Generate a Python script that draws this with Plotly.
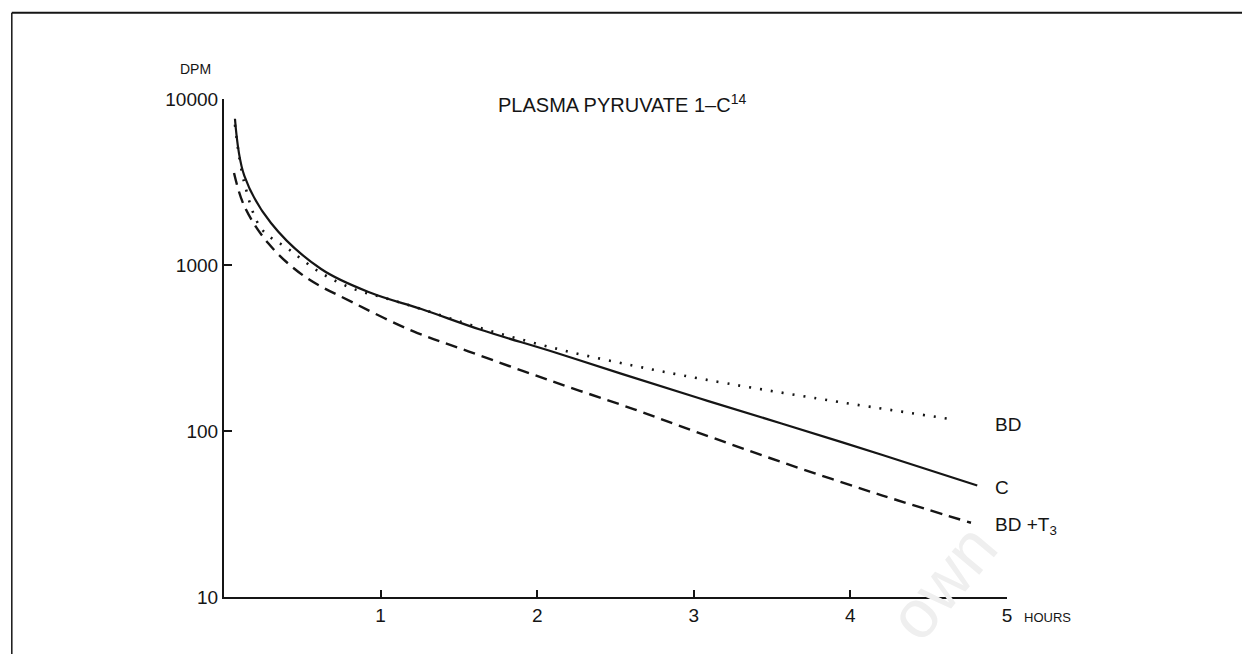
import plotly.graph_objects as go

# time in hours, DPM
c_hours = [0.07, 0.13, 0.30, 0.62, 0.94, 1.26, 1.64, 2.09, 2.54, 3.03, 3.56, 4.20, 4.81]
c_dpm = [7600, 3440, 1790, 946, 678, 543, 407, 302, 221, 158, 111, 72, 47]

bd_hours = [0.07, 0.13, 0.24, 0.41, 0.62, 0.83, 1.05, 1.26, 1.64, 2.13, 2.62, 3.05, 3.77, 4.64]
bd_dpm = [7000, 3120, 1650, 1250, 895, 716, 624, 543, 417, 312, 247, 206, 158, 118]

bdt3_hours = [0.064, 0.13, 0.28, 0.51, 0.83, 1.21, 1.56, 2.09, 2.62, 3.00, 3.56, 4.20, 4.77]
bdt3_dpm = [3580, 2260, 1360, 859, 590, 398, 302, 200, 135, 100, 65, 41, 28]

x_ticks = [1, 2, 3, 4, 5]
y_ticks = [10, 100, 1000, 10000]

ink = "#151515"
font = "Liberation Sans, Arial, sans-serif"

fig = go.Figure()

# C (solid)
fig.add_trace(go.Scatter(x=c_hours, y=c_dpm, mode="lines",
                         line=dict(color=ink, width=2.2, shape="spline", smoothing=1.0)))
# BD (dotted)
fig.add_trace(go.Scatter(x=bd_hours, y=bd_dpm, mode="lines",
                         line=dict(color=ink, width=2.6, dash="2px,9px", shape="spline", smoothing=1.0)))
# BD + T3 (dashed)
fig.add_trace(go.Scatter(x=bdt3_hours, y=bdt3_dpm, mode="lines",
                         line=dict(color=ink, width=2.4, dash="12px,7px", shape="spline", smoothing=1.0)))

fig.update_layout(
    width=1250, height=654,
    margin=dict(l=216, r=251, t=91, b=65),
    paper_bgcolor="white", plot_bgcolor="white",
    showlegend=False,
    font=dict(family=font, color=ink, size=19),
    xaxis=dict(range=[0, 5], tickvals=x_ticks, ticks="inside", ticklen=7, tickwidth=1.5,
               tickcolor=ink, showline=True, linecolor=ink, linewidth=2,
               showgrid=False, zeroline=False, tickfont=dict(size=19)),
    yaxis=dict(type="log", range=[1, 4], tickvals=y_ticks, ticktext=[str(v) for v in y_ticks],
               ticks="inside", ticklen=8, tickwidth=1.5, tickcolor=ink,
               showline=True, linecolor=ink, linewidth=2.2,
               showgrid=False, zeroline=False, tickfont=dict(size=19)),
)

notes = [
    dict(x=-0.036, y=1.060, text="DPM", size=14),
    dict(x=0.347, y=0.990, text="PLASMA PYRUVATE 1–C<sup>14</sup>", size=20),
    dict(x=0.982, y=0.347, text="BD", size=19),
    dict(x=0.982, y=0.219, text="C", size=19),
    dict(x=0.982, y=0.143, text="BD +T<sub>3</sub>", size=19),
    dict(x=1.019, y=-0.042, text="HOURS", size=13),
]
for n in notes:
    fig.add_annotation(x=n["x"], y=n["y"], xref="paper", yref="paper", text=n["text"],
                       showarrow=False, xanchor="center" if n["text"] == "DPM" else "left",
                       yanchor="middle", font=dict(size=n["size"], color=ink, family=font))

# faint watermark from the scan
fig.add_annotation(x=0.917, y=0.03, xref="paper", yref="paper", text="own", showarrow=False,
                   xanchor="center", yanchor="middle", textangle=-50,
                   font=dict(size=68, color="#efefef", family=font))

# page frame lines of the scanned figure
fig.add_shape(type="line", xref="paper", yref="paper", x0=-0.271, x1=1.33, y0=1.173, y1=1.173,
              line=dict(color=ink, width=2))
fig.add_shape(type="line", xref="paper", yref="paper", x0=-0.271, x1=-0.271, y0=1.173, y1=-0.14,
              line=dict(color=ink, width=1.5))

fig.write_html("out.html")
